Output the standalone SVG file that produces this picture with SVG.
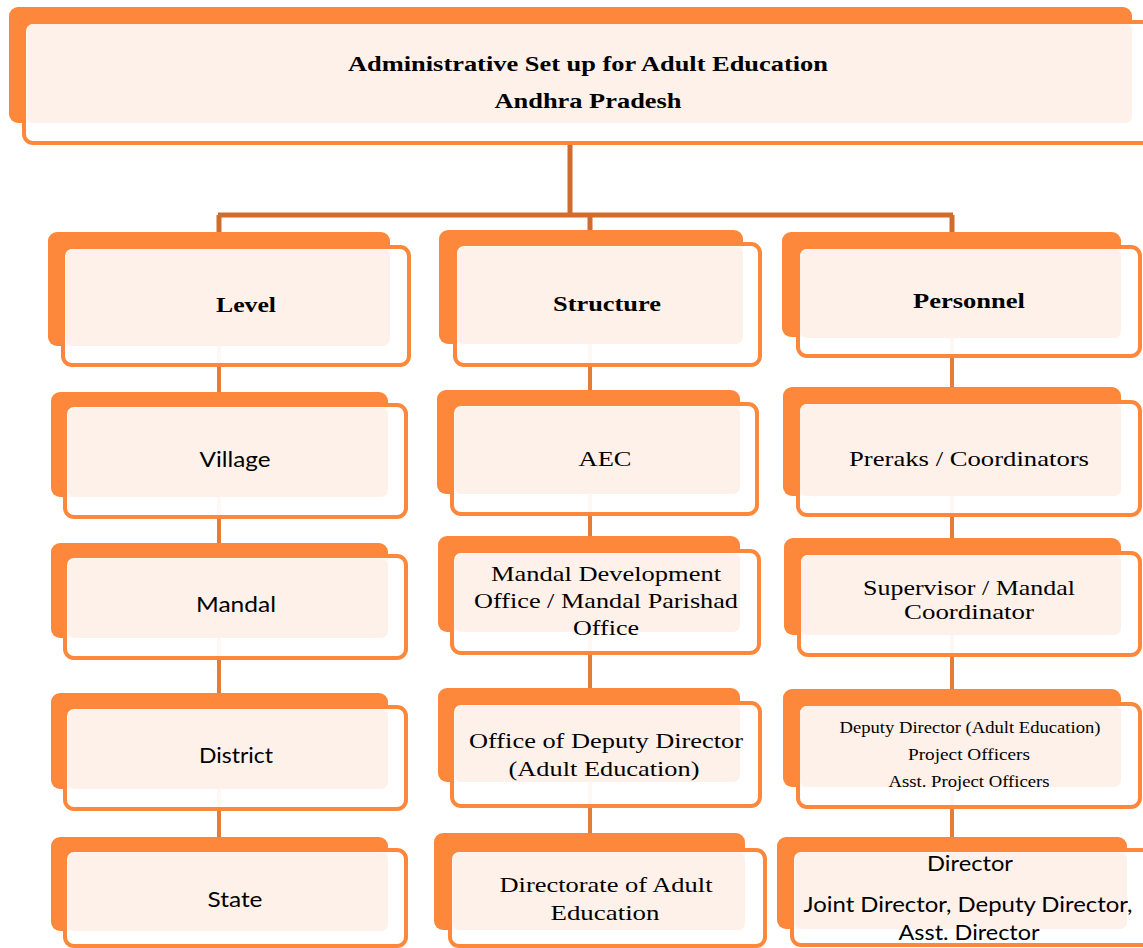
<svg xmlns="http://www.w3.org/2000/svg" width="1143" height="948" viewBox="0 0 1143 948">
<style>
.bk{fill:#FD873A}
.fr{fill:#fff;fill-opacity:0.94;stroke:#FD873A;stroke-width:4}
.pk{fill:#FEF1EA}
.tree{stroke:#D06C2E;stroke-width:5;fill:none}
.col{stroke:#E47D38;stroke-width:4;fill:none}
.hb{font-family:"Liberation Serif","Times New Roman",serif;font-weight:bold;font-size:22px;fill:#000;text-anchor:middle}
.sr{font-family:"Liberation Serif","Times New Roman",serif;font-size:22px;fill:#000;text-anchor:middle}
.ss{font-family:"Liberation Serif","Times New Roman",serif;font-size:16px;fill:#000;text-anchor:middle}
.sa{font-family:Lato,"Liberation Sans",sans-serif;font-size:21px;fill:#000;text-anchor:middle}
</style>
<g id="connectors">
<path class="tree" d="M570 145V215M218 215H953M219 215V234M590 215V232M952 215V234"/>
<path class="col" d="M219 346V839M590 344V835M952 337V839"/>
</g>
<g id="title">
<rect class="bk" x="9" y="7" width="1123" height="116" rx="9"/>
<rect class="fr" x="24" y="22" width="1130" height="121" rx="9"/>
<rect class="pk" x="27" y="24" width="1105" height="99" rx="7"/>
<text class="hb" x="588" y="71" textLength="480" lengthAdjust="spacingAndGlyphs">Administrative Set up for Adult Education</text>
<text class="hb" x="588" y="108" textLength="187" lengthAdjust="spacingAndGlyphs">Andhra Pradesh</text>
</g>
<g id="level">
<rect class="bk" x="48" y="232" width="342" height="114" rx="9"/>
<rect class="fr" x="63" y="247" width="346" height="118" rx="9"/>
<rect class="pk" x="66" y="249" width="324" height="97" rx="7"/>
<text class="hb" x="246" y="312" textLength="60" lengthAdjust="spacingAndGlyphs">Level</text>
</g>
<g id="structure">
<rect class="bk" x="439" y="230" width="304" height="114" rx="9"/>
<rect class="fr" x="455" y="244" width="305" height="121" rx="9"/>
<rect class="pk" x="457" y="247" width="286" height="97" rx="7"/>
<text class="hb" x="607" y="311" textLength="108" lengthAdjust="spacingAndGlyphs">Structure</text>
</g>
<g id="personnel">
<rect class="bk" x="782" y="232" width="339" height="105" rx="9"/>
<rect class="fr" x="798" y="247" width="342" height="109" rx="9"/>
<rect class="pk" x="800" y="249" width="321" height="89" rx="7"/>
<text class="hb" x="969" y="308" textLength="112" lengthAdjust="spacingAndGlyphs">Personnel</text>
</g>
<g id="village">
<rect class="bk" x="51" y="392" width="337" height="105" rx="9"/>
<rect class="fr" x="65" y="405" width="341" height="112" rx="9"/>
<rect class="pk" x="68" y="408" width="320" height="89" rx="7"/>
<text class="sa" x="235" y="467" textLength="71" lengthAdjust="spacingAndGlyphs">Village</text>
</g>
<g id="mandal">
<rect class="bk" x="51" y="543" width="337" height="95" rx="9"/>
<rect class="fr" x="65" y="556" width="341" height="102" rx="9"/>
<rect class="pk" x="68" y="559" width="320" height="79" rx="7"/>
<text class="sa" x="236" y="612" textLength="80" lengthAdjust="spacingAndGlyphs">Mandal</text>
</g>
<g id="district">
<rect class="bk" x="51" y="693" width="337" height="96" rx="9"/>
<rect class="fr" x="65" y="707" width="341" height="102" rx="9"/>
<rect class="pk" x="68" y="710" width="320" height="79" rx="7"/>
<text class="sa" x="236" y="763" textLength="74" lengthAdjust="spacingAndGlyphs">District</text>
</g>
<g id="state">
<rect class="bk" x="51" y="837" width="337" height="94" rx="9"/>
<rect class="fr" x="65" y="850" width="341" height="96" rx="9"/>
<rect class="pk" x="68" y="853" width="320" height="78" rx="7"/>
<text class="sa" x="235" y="907" textLength="55" lengthAdjust="spacingAndGlyphs">State</text>
</g>
<g id="aec">
<rect class="bk" x="437" y="390" width="303" height="104" rx="9"/>
<rect class="fr" x="452" y="404" width="305" height="110" rx="9"/>
<rect class="pk" x="455" y="407" width="285" height="87" rx="7"/>
<text class="sr" x="605" y="466" textLength="53" lengthAdjust="spacingAndGlyphs">AEC</text>
</g>
<g id="mdo">
<rect class="bk" x="438" y="536" width="302" height="96" rx="9"/>
<rect class="fr" x="452" y="551" width="307" height="102" rx="9"/>
<rect class="pk" x="455" y="554" width="285" height="78" rx="7"/>
<text class="sr" x="606" y="581" textLength="230" lengthAdjust="spacingAndGlyphs">Mandal Development</text>
<text class="sr" x="606" y="608" textLength="264" lengthAdjust="spacingAndGlyphs">Office / Mandal Parishad</text>
<text class="sr" x="606" y="635" textLength="66" lengthAdjust="spacingAndGlyphs">Office</text>
</g>
<g id="odd">
<rect class="bk" x="438" y="688" width="302" height="94" rx="9"/>
<rect class="fr" x="452" y="703" width="308" height="103" rx="9"/>
<rect class="pk" x="455" y="706" width="285" height="76" rx="7"/>
<text class="sr" x="606" y="748" textLength="274" lengthAdjust="spacingAndGlyphs">Office of Deputy Director</text>
<text class="sr" x="604" y="776" textLength="191" lengthAdjust="spacingAndGlyphs">(Adult Education)</text>
</g>
<g id="directorate">
<rect class="bk" x="434" y="833" width="311" height="97" rx="9"/>
<rect class="fr" x="450" y="850" width="315" height="96" rx="9"/>
<rect class="pk" x="453" y="853" width="292" height="77" rx="7"/>
<text class="sr" x="606" y="892" textLength="213" lengthAdjust="spacingAndGlyphs">Directorate of Adult</text>
<text class="sr" x="605" y="920" textLength="109" lengthAdjust="spacingAndGlyphs">Education</text>
</g>
<g id="preraks">
<rect class="bk" x="783" y="387" width="338" height="109" rx="9"/>
<rect class="fr" x="798" y="402" width="342" height="113" rx="9"/>
<rect class="pk" x="800" y="404" width="321" height="92" rx="7"/>
<text class="sr" x="969" y="466" textLength="240" lengthAdjust="spacingAndGlyphs">Preraks / Coordinators</text>
</g>
<g id="supervisor">
<rect class="bk" x="784" y="538" width="337" height="97" rx="9"/>
<rect class="fr" x="799" y="553" width="341" height="102" rx="9"/>
<rect class="pk" x="801" y="555" width="320" height="80" rx="7"/>
<text class="sr" x="969" y="595" font-size="19" textLength="212" lengthAdjust="spacingAndGlyphs">Supervisor / Mandal</text>
<text class="sr" x="969" y="619" font-size="19" textLength="130" lengthAdjust="spacingAndGlyphs">Coordinator</text>
</g>
<g id="deputy">
<rect class="bk" x="783" y="689" width="338" height="98" rx="9"/>
<rect class="fr" x="798" y="704" width="342" height="103" rx="9"/>
<rect class="pk" x="800" y="706" width="321" height="81" rx="7"/>
<text class="ss" x="970" y="733" textLength="261" lengthAdjust="spacingAndGlyphs">Deputy Director (Adult Education)</text>
<text class="ss" x="969" y="760" textLength="122" lengthAdjust="spacingAndGlyphs">Project Officers</text>
<text class="ss" x="969" y="787" textLength="161" lengthAdjust="spacingAndGlyphs">Asst. Project Officers</text>
</g>
<g id="director">
<rect class="bk" x="777" y="837" width="350" height="92" rx="9"/>
<rect class="fr" x="792" y="850" width="360" height="95" rx="9"/>
<rect class="pk" x="795" y="853" width="332" height="76" rx="7"/>
<text class="sa" x="970" y="871" textLength="86" lengthAdjust="spacingAndGlyphs">Director</text>
<text class="sa" x="968" y="912" textLength="329" lengthAdjust="spacingAndGlyphs">Joint Director, Deputy Director,</text>
<text class="sa" x="969" y="940" textLength="141" lengthAdjust="spacingAndGlyphs">Asst. Director</text>
</g>
</svg>
